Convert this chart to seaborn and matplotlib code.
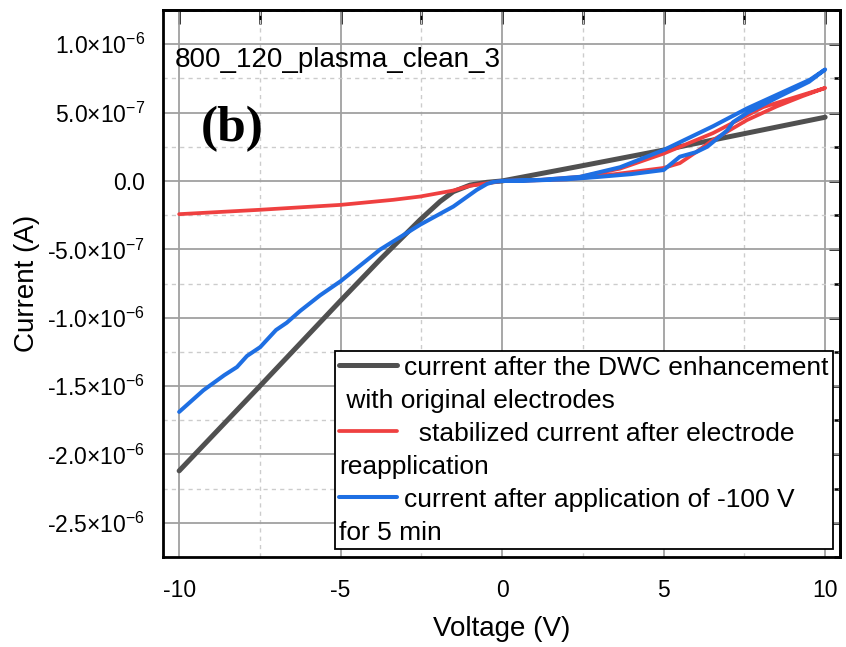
import numpy as np
import pandas as pd
import matplotlib
matplotlib.use("Agg")
import matplotlib.pyplot as plt
import seaborn as sns
from matplotlib.ticker import FixedLocator, FixedFormatter, MultipleLocator
from matplotlib.lines import Line2D

# ---------------- data (current in A) ----------------
black_v = [-10, -7.5, -5.0, -3.78, -2.54, -1.92, -1.51, -0.99, -0.47, 0, 2.5, 5, 7.5, 10]
black_i = [-2.12e-6, -1.50e-6, -0.875e-6, -0.575e-6, -0.284e-6, -0.150e-6, -0.078e-6,
           -0.030e-6, -0.010e-6, 0.0, 0.112e-6, 0.226e-6, 0.346e-6, 0.466e-6]

red_v = [0, 1, 2, 3, 4, 5, 5.5, 6.0, 6.53, 7.58, 8.5, 9.3, 10,
         8.08, 6.53, 5.0, 3.65, 2.41, 1.2, 0,
         -0.47, -0.99, -1.51, -2.54, -3.37, -5.0, -7.5, -10]
red_i = [0.0, 0.004e-6, 0.012e-6, 0.035e-6, 0.065e-6, 0.095e-6, 0.13e-6, 0.21e-6, 0.30e-6,
         0.445e-6, 0.545e-6, 0.62e-6, 0.68e-6,
         0.54e-6, 0.35e-6, 0.20e-6, 0.09e-6, 0.03e-6, 0.008e-6, 0.0,
         -0.017e-6, -0.035e-6, -0.070e-6, -0.114e-6, -0.138e-6, -0.175e-6, -0.211e-6, -0.243e-6]

blue_v = [0, 1.0, 2.0, 3.0, 4.0, 5.0, 5.5, 6.0, 6.35, 6.97, 7.15, 7.6, 8.6, 9.5, 10.0,
          9.53, 8.6, 7.58, 6.53, 5.0, 3.65, 2.41, 1.2, 0.4, 0,
          -0.28, -0.47, -0.79, -1.51, -2.54, -3.78, -5.0, -5.64, -6.25, -6.67, -7.0,
          -7.49, -7.9, -8.21, -8.6, -9.25, -10]
blue_i = [0.0, 0.004e-6, 0.012e-6, 0.03e-6, 0.05e-6, 0.08e-6, 0.177e-6, 0.21e-6, 0.25e-6,
          0.37e-6, 0.43e-6, 0.50e-6, 0.62e-6, 0.725e-6, 0.815e-6,
          0.74e-6, 0.64e-6, 0.53e-6, 0.40e-6, 0.226e-6, 0.10e-6, 0.03e-6, 0.008e-6, 0.002e-6, 0.0,
          -0.008e-6, -0.022e-6, -0.066e-6, -0.187e-6, -0.320e-6, -0.502e-6, -0.733e-6,
          -0.837e-6, -0.95e-6, -1.037e-6, -1.09e-6, -1.215e-6, -1.28e-6, -1.361e-6,
          -1.42e-6, -1.531e-6, -1.689e-6]

x_ticks = [-10, -5, 0, 5, 10]
x_tick_labels = ["-10", "-5", "0", "5", "10"]
y_ticks = [-2.5e-6, -2.0e-6, -1.5e-6, -1.0e-6, -5.0e-7, 0.0, 5.0e-7, 1.0e-6]
y_tick_labels = ["-2.5×10$^{-6}$", "-2.0×10$^{-6}$", "-1.5×10$^{-6}$", "-1.0×10$^{-6}$",
                 "-5.0×10$^{-7}$", "0.0", "5.0×10$^{-7}$", "1.0×10$^{-6}$"]

legend_labels = ["current after the DWC enhancement", " with original electrodes",
                 "  stabilized current after electrode", "reapplication",
                 "current after application of -100 V", "for 5 min"]

c_black = "#505050"
c_red = "#EF4040"
c_blue = "#1E6FE3"

# ---------------- style ----------------
sns.set_style("white")
plt.rcParams['font.family'] = ['Liberation Sans', 'DejaVu Sans']
plt.rcParams['mathtext.fontset'] = 'custom'
plt.rcParams['mathtext.rm'] = 'Liberation Sans'
plt.rcParams['mathtext.it'] = 'Liberation Sans:italic'
plt.rcParams['mathtext.bf'] = 'Liberation Sans:bold'
plt.rcParams['mathtext.default'] = 'regular'
plt.rcParams['axes.unicode_minus'] = False
for k in ['text.color', 'axes.labelcolor', 'xtick.color', 'ytick.color',
          'xtick.labelcolor', 'ytick.labelcolor', 'axes.edgecolor']:
    plt.rcParams[k] = 'black'

fig = plt.figure(figsize=(8.46, 6.47), dpi=100)
ax = fig.add_axes([163 / 846, 90 / 647, 677 / 846, 547 / 647])

df_b = pd.DataFrame({"V": black_v, "I": black_i})
df_r = pd.DataFrame({"V": red_v, "I": red_i})
df_bl = pd.DataFrame({"V": blue_v, "I": blue_i})

sns.lineplot(data=df_b, x="V", y="I", sort=False, estimator=None, color=c_black, lw=3.6, ax=ax)
sns.lineplot(data=df_r, x="V", y="I", sort=False, estimator=None, color=c_red, lw=2.7, ax=ax)
sns.lineplot(data=df_bl, x="V", y="I", sort=False, estimator=None, color=c_blue, lw=2.9, ax=ax)

ax.set_xlim(-10.5, 10.46)
ax.set_ylim(-2.75e-6, 1.25e-6)

ax.xaxis.set_major_locator(FixedLocator(x_ticks))
ax.xaxis.set_major_formatter(FixedFormatter(x_tick_labels))
ax.xaxis.set_minor_locator(MultipleLocator(2.5))
ax.yaxis.set_major_locator(FixedLocator(y_ticks))
ax.yaxis.set_major_formatter(FixedFormatter(y_tick_labels))
ax.yaxis.set_minor_locator(MultipleLocator(2.5e-7))

ax.set_axisbelow(True)
ax.grid(which='major', color='#a0a0a0', lw=1.3, ls='-')
ax.grid(which='minor', color='#cccccc', lw=1.0, ls=(0, (3, 3)))

for s in ax.spines.values():
    s.set_linewidth(2.0)
    s.set_color('black')

ax.tick_params(axis='both', which='major', direction='out', length=10, width=1.8,
               labelsize=16.5, color='black', labelcolor='black')
ax.tick_params(axis='both', which='minor', direction='out', length=5, width=1.8, color='black')
ax.tick_params(axis='y', which='both', pad=3)
ax.tick_params(axis='x', which='both', pad=6)

# top & right inward ticks
secx = ax.secondary_xaxis('top')
secx.xaxis.set_major_locator(FixedLocator(x_ticks))
secx.xaxis.set_minor_locator(MultipleLocator(2.5))
secx.tick_params(which='major', direction='in', length=10, width=1.8, labeltop=False, color='black')
secx.tick_params(which='minor', direction='in', length=10, width=1.8, color='black')
secx.spines['top'].set_linewidth(2.0)
secy = ax.secondary_yaxis('right')
secy.yaxis.set_major_locator(FixedLocator(y_ticks))
secy.yaxis.set_minor_locator(MultipleLocator(2.5e-7))
secy.tick_params(which='major', direction='in', length=8, width=1.8, labelright=False, color='black')
secy.tick_params(which='minor', direction='in', length=4, width=1.8, color='black')
secy.spines['right'].set_linewidth(2.0)

ax.set_xlabel("Voltage (V)", fontsize=20, labelpad=10, color='black')
ax.set_ylabel("Current (A)", fontsize=20, labelpad=5, color='black')

ax.text(0.0177, 0.909, "800_120_plasma_clean_3", transform=ax.transAxes,
        fontsize=20, ha='left', va='center', color='black')
ax.text(0.056, 0.782, "(b)", transform=ax.transAxes, fontsize=37, fontweight='bold',
        family=['Liberation Serif', 'DejaVu Serif'], ha='left', va='center', color='black')

handles = [Line2D([], [], color=c_black, lw=3.6), Line2D([], [], color='none'),
           Line2D([], [], color=c_red, lw=2.7), Line2D([], [], color='none'),
           Line2D([], [], color=c_blue, lw=2.9), Line2D([], [], color='none')]
leg = ax.legend(handles, legend_labels, loc='lower right', bbox_to_anchor=(0.99, 0.0146),
                borderaxespad=0, frameon=True, fancybox=False, edgecolor='black',
                framealpha=1, fontsize=19, handlelength=2.2, handletextpad=0.27,
                labelspacing=0.34, borderpad=0.17)
leg.get_frame().set_linewidth(1.3)
for t in leg.get_texts():
    t.set_color('black')
for col in leg._legend_handle_box.get_children():
    for i, item in enumerate(col.get_children()):
        if i % 2 == 1:
            item.sep = 0
            item.get_children()[0].width = 0

fig.savefig("out.png", dpi=100)
